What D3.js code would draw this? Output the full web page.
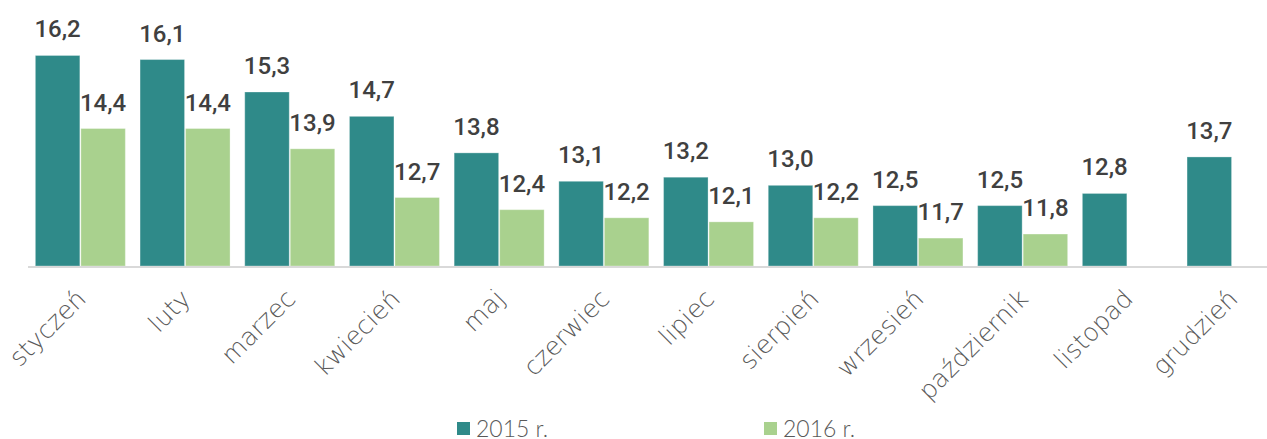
<!DOCTYPE html>
<html><head><meta charset="utf-8">
<script src="https://cdn.jsdelivr.net/npm/d3@7"></script>
<style>body{margin:0;background:#fff}svg{display:block}</style>
</head><body><svg id="c" width="1267" height="439"></svg>
<script>
const months = ["styczeń","luty","marzec","kwiecień","maj","czerwiec","lipiec","sierpień","wrzesień","październik","listopad","grudzień"];
const series = ["2015 r.","2016 r."];
const values2015 = [16.2,16.1,15.3,14.7,13.8,13.1,13.2,13.0,12.5,12.5,12.8,13.7];
const values2016 = [14.4,14.4,13.9,12.7,12.4,12.2,12.1,12.2,11.7,11.8,null,null];
const colors = ["#2f8a89","#a9d18e"];

const svg = d3.select("#c");
const baseY = 266;
const y = d3.scaleLinear().domain([11,17]).range([baseY, baseY - 6*40.58]);
const x0 = d3.scaleBand().domain(months).range([28, 28+12*104.7]).paddingInner(0.131).paddingOuter(0.0655);
const x1 = d3.scaleBand().domain(series).range([0, x0.bandwidth()]);
const fmt = v => v.toFixed(1).replace(".", ",");

const data = months.map((m,i)=>({m, vals:[values2015[i], values2016[i]]}));

const g = svg.append("g");
data.forEach(d=>{
  d.vals.forEach((v,j)=>{
    if(v==null) return;
    const bx = x0(d.m)+x1(series[j]);
    g.append("rect").attr("x",bx+0.5).attr("y",y(v)+0.5).attr("width",x1.bandwidth()-1).attr("height",baseY-y(v)-0.5)
      .attr("fill",colors[j]).attr("stroke","rgba(255,255,255,0.3)").attr("stroke-width",1);
    g.append("text").attr("x",bx+x1.bandwidth()/2).attr("y",y(v)-17.5)
      .attr("text-anchor","middle").attr("font-family","Roboto").attr("font-weight",500)
      .attr("font-size",24).attr("fill","#404040").text(fmt(v));
  });
});

svg.append("line").attr("x1",28).attr("x2",1267).attr("y1",baseY+1).attr("y2",baseY+1)
  .attr("stroke","#d9d9d9").attr("stroke-width",2);

months.forEach(m=>{
  const cx = x0(m)+x0.bandwidth()/2;
  svg.append("text").attr("transform",`translate(${cx+1},${baseY+28}) rotate(-45)`)
    .attr("text-anchor","end").attr("dy","0.35em")
    .attr("font-family","DejaVu Sans").attr("font-weight",200).attr("font-size",25)
    .attr("fill","#595959").text(m);
});

const legX = [457, 764];
series.forEach((s,j)=>{
  svg.append("rect").attr("x",legX[j]).attr("y",422).attr("width",13).attr("height",13).attr("fill",colors[j]);
  svg.append("text").attr("x",legX[j]+19).attr("y",437).attr("font-family","Lato").attr("font-weight",300)
    .attr("font-size",23).attr("fill","#595959").text(s);
});
</script></body></html>
